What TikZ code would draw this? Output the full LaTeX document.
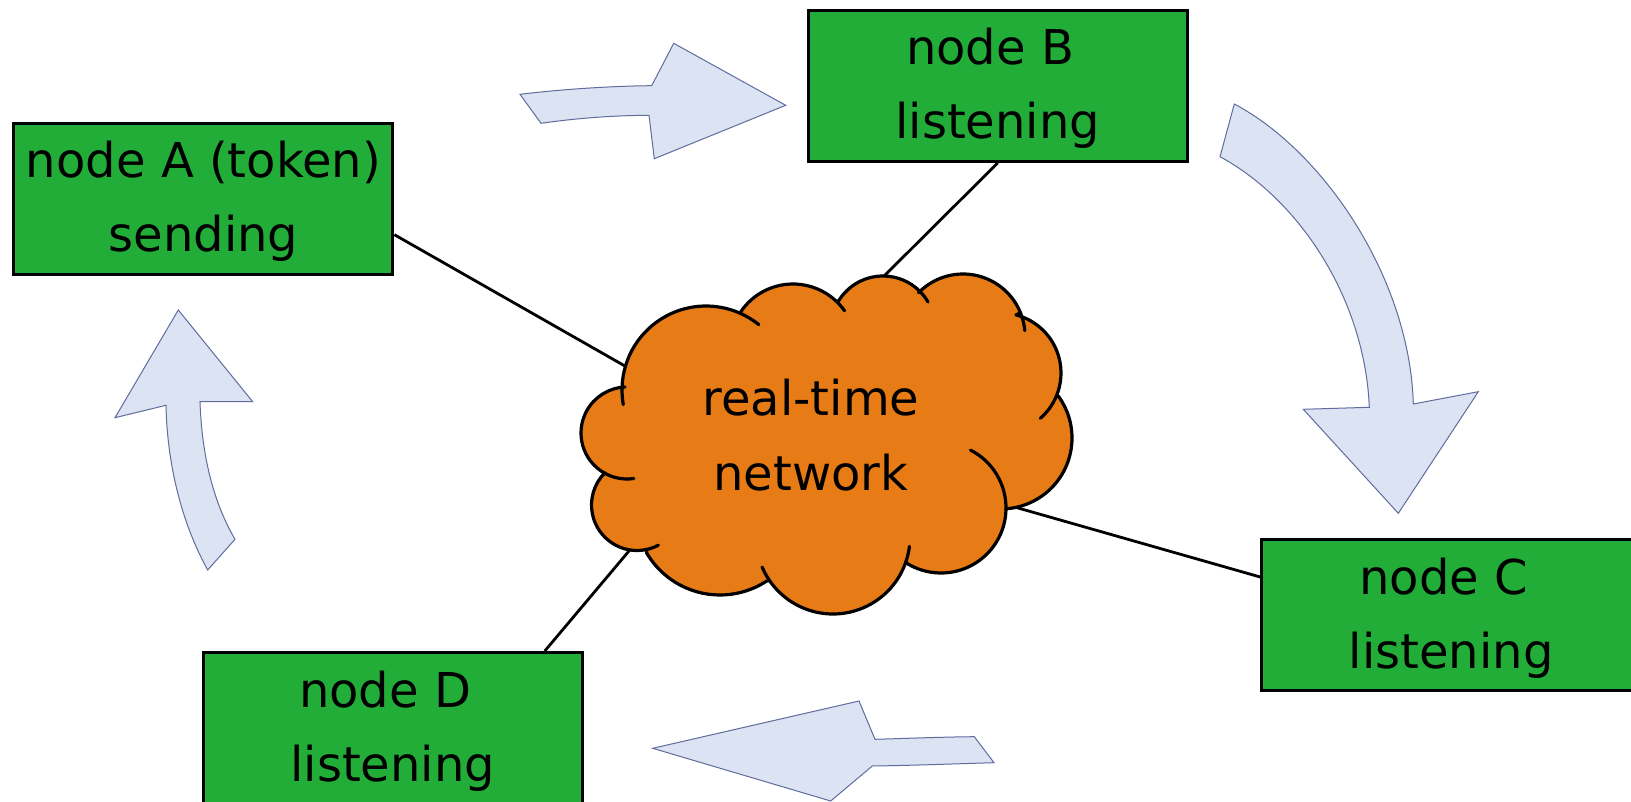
\documentclass[tikz,border=0pt]{standalone}
\usepackage{fontspec}
\setmainfont{DejaVu Sans}
\usetikzlibrary{calc}
\definecolor{boxgreen}{RGB}{34,172,56}
\definecolor{cloudorange}{RGB}{231,123,21}
\definecolor{arrowfill}{RGB}{220,227,242}
\definecolor{arrowline}{RGB}{96,108,158}
\tikzset{
  stationbox/.style={draw=black, line width=3pt, fill=boxgreen, minimum width=379pt, minimum height=151pt, inner sep=0pt},
  lbl/.style={font=\fontsize{48}{56}\selectfont, inner sep=0pt, anchor=base},
  link/.style={draw=black, line width=2.8pt},
  cloudline/.style={draw=black, line width=3.2pt, line cap=round, line join=round},
  blockarrow/.style={fill=arrowfill, draw=arrowline, line width=1pt, line join=miter},
}
\begin{document}
\begin{tikzpicture}[x=1pt,y=-1pt]
\useasboundingbox (0,0) rectangle (1631,802);
\fill[white] (0,0) rectangle (1631,802);

% block arrows
\filldraw[blockarrow] (520,94.3) .. controls (560,89.5) and (610,86) .. (651.7,85.7) -- (673.7,43.3) -- (785.7,105.3) -- (654.3,158.7) -- (649,115.3) .. controls (610,115.5) and (575,118.5) .. (541,123.3) -- cycle;
\filldraw[blockarrow] (1234.3,104) .. controls (1325,152) and (1410,280) .. (1413.3,404) -- (1478.3,391.7) -- (1398.3,513.3) -- (1303.3,409.3) -- (1369.3,407.3) .. controls (1365,300) and (1300,200) .. (1220,156.7) -- cycle;
\filldraw[blockarrow] (974.3,736.7) .. controls (940,737) and (905,738.5) .. (875,739.3) -- (859,701) -- (652.7,748.3) -- (830.7,801) -- (872.3,766) .. controls (910,765.5) and (950,764) .. (994,762.7) -- cycle;
\filldraw[blockarrow] (178.3,310) -- (252.7,401.7) -- (200,401.7) .. controls (202,460) and (215,505) .. (235,539.3) -- (207.7,570) .. controls (180,520) and (167,460) .. (166,405.3) -- (115,417.7) -- cycle;

% station boxes
\node[stationbox] (A) at (203.4,198.7) {};
\node[stationbox] (B) at (997.8,85.9) {};
\node[stationbox] (C) at (1451.2,615) {};
\node[stationbox] (D) at (392.8,728) {};

% hub coordinates inside the cloud
\coordinate (hubA) at (660,386);
\coordinate (hubB) at (865,295);
\coordinate (hubC) at (990,500);
\coordinate (hubD) at (650,526);

\draw[link] ([yshift=-36pt]A.east) -- (hubA);
\draw[link] (B.south) -- (hubB);
\draw[link] ([yshift=38pt]C.west) -- (hubC);
\draw[link] ([xshift=152pt]D.north) -- (hubD);

% cloud
\filldraw[fill=cloudorange, cloudline]
  ($(706,390)+(182:84)$) arc[start angle=182, end angle=294, radius=84]
  -- ($(793,347)+(212.7:63)$) arc[start angle=212.7, end angle=313, radius=63]
  -- ($(883,328)+(211.3:52)$) arc[start angle=211.3, end angle=314, radius=52]
  -- ($(963,336)+(224.4:62)$) arc[start angle=224.4, end angle=338, radius=62]
  -- ($(1001,373)+(284.5:60)$) arc[start angle=284.5, end angle=383.2, radius=60]
  -- ($(1001,438)+(-36.2:71)$) arc[start angle=-36.2, end angle=86, radius=71]
  -- ($(941,508)+(1.8:65)$) arc[start angle=1.8, end angle=122, radius=65]
  -- ($(833,537)+(18.7:77)$) arc[start angle=18.7, end angle=145.7, radius=77]
  -- ($(720,510)+(56.9:85)$) arc[start angle=56.9, end angle=149.5, radius=85]
  -- ($(637,505)+(78.2:45.5)$) arc[start angle=78.2, end angle=225, radius=45.5]
  -- ($(627,433)+(118.8:46)$) arc[start angle=118.8, end angle=267.5, radius=46]
  -- cycle;
% inner tails of the cloud puffs
\draw[cloudline] ($(706,390)+(170:84)$) arc[start angle=170, end angle=182, radius=84];
\draw[cloudline] ($(706,390)+(294:84)$) arc[start angle=294, end angle=309, radius=84];
\draw[cloudline] ($(793,347)+(313:63)$) arc[start angle=313, end angle=325, radius=63];
\draw[cloudline] ($(883,328)+(314:52)$) arc[start angle=314, end angle=330, radius=52];
\draw[cloudline] ($(963,336)+(338:62)$) arc[start angle=338, end angle=355, radius=62];
\draw[cloudline] ($(1001,373)+(383:60)$) arc[start angle=383, end angle=409, radius=60];
\draw[cloudline] ($(941,508)+(-63:65)$) arc[start angle=-63, end angle=1.8, radius=65];
\draw[cloudline] ($(833,537)+(7:77)$) arc[start angle=7, end angle=18.7, radius=77];
\draw[cloudline] ($(833,537)+(145.7:77)$) arc[start angle=145.7, end angle=157, radius=77];
\draw[cloudline] ($(637,505)+(62:45.5)$) arc[start angle=62, end angle=78.2, radius=45.5];
\draw[cloudline] ($(627,433)+(81.5:46)$) arc[start angle=81.5, end angle=118.8, radius=46];

\node[lbl] (net1) at (811,415) {real-time};
\node[lbl] (net2) at (811,490.5) {network};

% box labels
\node[lbl] (A1) at ($(A.center)+(0,-21)$) {node A (token)};
\node[lbl] (A2) at ($(A.center)+(0,53)$) {sending};
\node[lbl] (B1) at ($(B.center)+(0,-21)$) {node B\hspace*{0.318em}};
\node[lbl] (B2) at ($(B.center)+(0,53)$) {listening};
\node[lbl] (C1) at ($(C.center)+(0,-21)$) {node C\hspace*{0.318em}};
\node[lbl] (C2) at ($(C.center)+(0,53)$) {listening};
\node[lbl] (D1) at ($(D.center)+(0,-21)$) {node D\hspace*{0.318em}};
\node[lbl] (D2) at ($(D.center)+(0,53)$) {listening};
\end{tikzpicture}
\end{document}
